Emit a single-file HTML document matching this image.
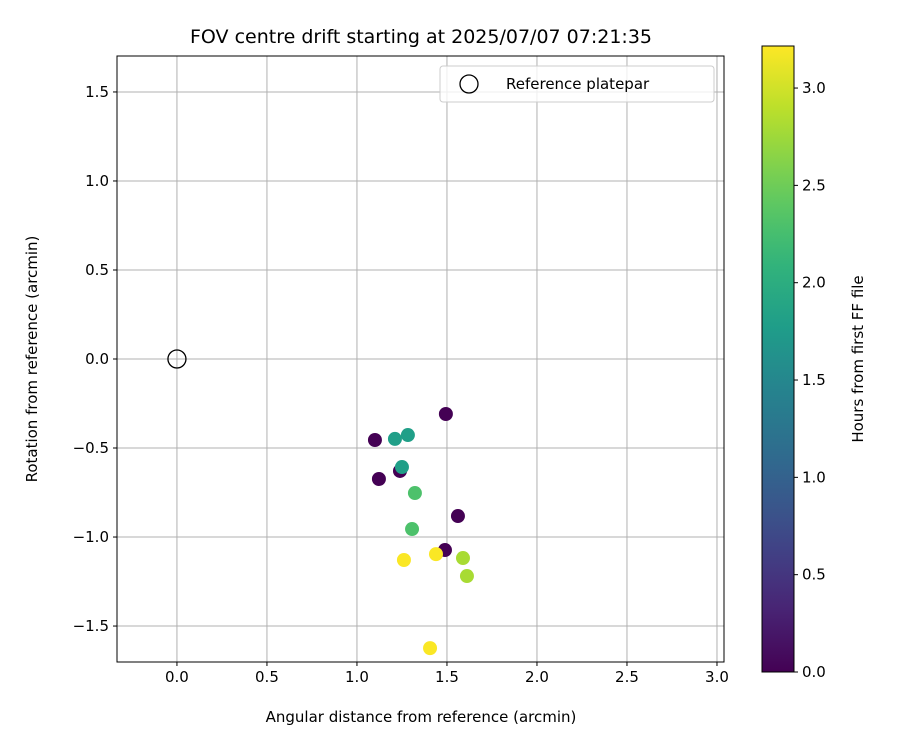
<!DOCTYPE html>
<html><head><meta charset="utf-8"><style>
body{margin:0;background:#fff;font-family:"Liberation Sans","DejaVu Sans",sans-serif}
svg text{font-family:"DejaVu Sans","Liberation Sans",sans-serif}
</style></head><body>
<svg id="c" width="900" height="750" xmlns="http://www.w3.org/2000/svg"></svg>
<script>
const xs=[1.494,1.10,1.122,1.239,1.561,1.489,1.211,1.283,1.25,1.322,1.306,1.589,1.611,1.261,1.439,1.406];
const ys=[-0.309,-0.455,-0.674,-0.629,-0.882,-1.073,-0.449,-0.427,-0.607,-0.753,-0.955,-1.118,-1.219,-1.129,-1.096,-1.624];
const hours=[0,0,0,0,0,0,1.8,1.8,1.8,2.3,2.3,2.8,2.8,3.2,3.2,3.2];
const xTicks=["0.0","0.5","1.0","1.5","2.0","2.5","3.0"];
const yTicks=["−1.5","−1.0","−0.5","0.0","0.5","1.0","1.5"];
const cTicks=["0.0","0.5","1.0","1.5","2.0","2.5","3.0"];
const NS="http://www.w3.org/2000/svg",svg=document.getElementById('c');
function el(t,a,p){const e=document.createElementNS(NS,t);for(const k in a)e.setAttribute(k,a[k]);(p||svg).appendChild(e);return e;}
const L=117,R=724,T=56,B=662,xmin=-0.333,xmax=3.039,ymin=-1.702,ymax=1.702;
const X=v=>L+(v-xmin)/(xmax-xmin)*(R-L),Y=v=>B-(v-ymin)/(ymax-ymin)*(B-T);
const vir=[[68,1,84],[72,40,120],[62,74,137],[49,104,142],[38,130,142],[31,158,137],[53,183,121],[109,205,89],[180,222,44],[253,231,37]];
function cm(t){t=Math.max(0,Math.min(1,t))*9;const i=Math.min(8,Math.floor(t)),f=t-i,a=vir[i],b=vir[i+1];return `rgb(${a.map((v,k)=>Math.round(v+(b[k]-v)*f)).join(',')})`;}
const hmax=3.216;
// grid
xTicks.forEach(s=>{const v=parseFloat(s),x=X(v);
const g=el('line',{x1:x,x2:x,y1:T,y2:B,stroke:'#b0b0b0','stroke-width':1});
el('line',{x1:x,x2:x,y1:B,y2:B+4,stroke:'#000'});
const t=el('text',{x:x,y:B+20,'text-anchor':'middle','font-size':15});t.textContent=s;});
yTicks.forEach(s=>{const v=parseFloat(s.replace('−','-')),y=Y(v);
const g=el('line',{x1:L,x2:R,y1:y,y2:y,stroke:'#b0b0b0','stroke-width':1});
el('line',{x1:L-4,x2:L,y1:y,y2:y,stroke:'#000'});
const t=el('text',{x:L-8,y:y+5,'text-anchor':'end','font-size':15});t.textContent=s;});
// reference
const rc=el('circle',{cx:X(0),cy:Y(0),r:9,fill:'none',stroke:'#000','stroke-width':1.3});
xs.forEach((x,i)=>{const c=el('circle',{cx:X(x),cy:Y(ys[i]),r:7,fill:cm(hours[i]/hmax)});

});
const fr=el('rect',{x:L,y:T,width:R-L,height:B-T,fill:'none',stroke:'#000'});
// legend
const lg=el('g',{});
el('rect',{x:440,y:66,width:274,height:36,rx:3,fill:'#fff','fill-opacity':0.8,stroke:'#ccc'},lg);
el('circle',{cx:469,cy:84,r:9,fill:'none',stroke:'#000','stroke-width':1.3},lg);
const lt=el('text',{x:506,y:89,'font-size':15},lg);lt.textContent='Reference platepar';
// colorbar
const defs=el('defs',{});const gr=el('linearGradient',{id:'g',x1:0,y1:1,x2:0,y2:0},defs);
for(let i=0;i<=20;i++)el('stop',{offset:i/20,'stop-color':cm(i/20)},gr);
const CT=46,CB=672,CL=762,CR=794;
const cb=el('rect',{x:CL,y:CT,width:CR-CL,height:CB-CT,fill:'url(#g)',stroke:'#000'});
cTicks.forEach(s=>{const y=CB-parseFloat(s)/hmax*(CB-CT);el('line',{x1:CR,x2:CR+4,y1:y,y2:y,stroke:'#000'});
const t=el('text',{x:CR+8,y:y+5,'font-size':15});t.textContent=s;});
</script>
<svg width="900" height="750" style="position:absolute;left:0;top:0" xmlns="http://www.w3.org/2000/svg">
<text x="421" y="43" text-anchor="middle" font-size="19" font-family="DejaVu Sans, Liberation Sans, sans-serif">FOV centre drift starting at 2025/07/07 07:21:35</text>
<text x="421" y="722" text-anchor="middle" font-size="15" font-family="DejaVu Sans, Liberation Sans, sans-serif">Angular distance from reference (arcmin)</text>
<text transform="translate(37,359) rotate(-90)" text-anchor="middle" font-size="15" font-family="DejaVu Sans, Liberation Sans, sans-serif">Rotation from reference (arcmin)</text>
<text transform="translate(863,359) rotate(-90)" text-anchor="middle" font-size="15" font-family="DejaVu Sans, Liberation Sans, sans-serif">Hours from first FF file</text>
</svg>
</body></html>
